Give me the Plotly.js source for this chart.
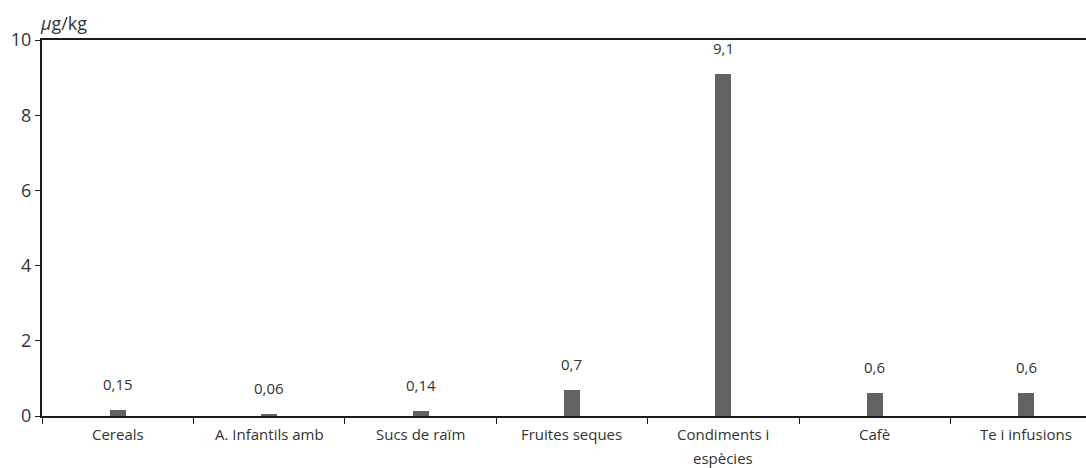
<!DOCTYPE html>
<html>
<head>
<meta charset="utf-8">
<script src="https://cdn.plot.ly/plotly-3.0.1.min.js"></script>
<style>html,body{margin:0;padding:0;background:#fff;}#chart{width:1086px;height:468px;}</style>
</head>
<body>
<div id="chart"></div>
<script>
const categories = ["Cereals", "A. Infantils amb", "Sucs de raïm", "Fruites seques", "Condiments i<br>espècies", "Cafè", "Te i infusions"];
const values = [0.15, 0.06, 0.14, 0.7, 9.1, 0.6, 0.6];
const valueLabels = ["0,15", "0,06", "0,14", "0,7", "9,1", "0,6", "0,6"];
const yTicks = [0, 2, 4, 6, 8, 10];
const unitLabel = "<i>µ</i>g/kg";

const font = "Open Sans, Noto Sans, sans-serif";
const textColor = "#333333";

const trace = {
  type: "bar",
  x: categories,
  y: values,
  width: 0.106,
  marker: {color: "#626262"},
  hoverinfo: "none"
};

const annotations = categories.map((c, i) => ({
  x: c, y: values[i], xref: "x", yref: "y",
  text: valueLabels[i], showarrow: false,
  yanchor: "bottom", yshift: 14,
  font: {family: font, size: 15, color: textColor}
}));
// category labels, one annotation per line for wider line spacing
categories.forEach((c) => {
  c.split("<br>").forEach((line, li) => {
    annotations.push({
      x: c, y: 0, xref: "x", yref: "y",
      text: line, showarrow: false,
      yanchor: "middle", yshift: -18 - li * 24,
      font: {family: font, size: 15, color: textColor}
    });
  });
});
annotations.push({
  xref: "paper", yref: "paper", x: 0, y: 1,
  xanchor: "left", yanchor: "bottom", xshift: -4, yshift: 3,
  text: unitLabel, showarrow: false,
  font: {family: font, size: 18, color: textColor}
});

const layout = {
  width: 1086, height: 468,
  margin: {l: 42, r: 0, t: 40, b: 52},
  paper_bgcolor: "#fff", plot_bgcolor: "#fff",
  showlegend: false,
  bargap: 0,
  xaxis: {
    type: "category",
    range: [-0.5, 6.395],
    showline: true, linecolor: "#1a1a1a", linewidth: 2, mirror: true,
    ticks: "outside", tickson: "boundaries", ticklen: 6, tickcolor: "#1a1a1a", tickwidth: 1,
    showgrid: false, zeroline: false,
    showticklabels: false,
    fixedrange: true
  },
  yaxis: {
    range: [0, 10],
    tickvals: yTicks,
    ticktext: yTicks.map(String),
    showline: true, linecolor: "#1a1a1a", linewidth: 2,
    ticks: "outside", ticklen: 5, tickcolor: "#1a1a1a", tickwidth: 1,
    showgrid: false, zeroline: false,
    tickfont: {family: font, size: 18, color: textColor},
    fixedrange: true
  },
  annotations: annotations
};

Plotly.newPlot("chart", [trace], layout, {staticPlot: true, displayModeBar: false});
</script>
</body>
</html>
